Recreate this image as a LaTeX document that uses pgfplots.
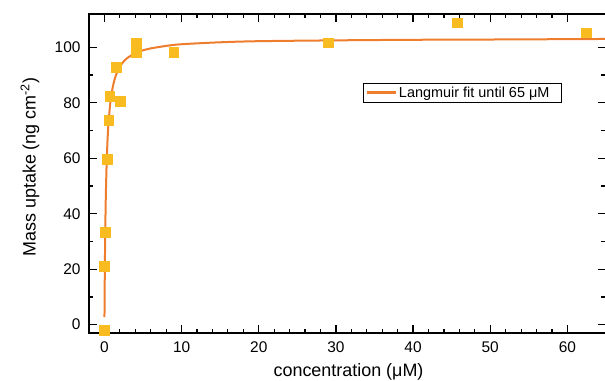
\documentclass[border=0pt]{standalone}
\usepackage{pgfplots}
\pgfplotsset{compat=1.18}
\usepackage{fontspec}
\setmainfont{Liberation Sans}
\definecolor{mk}{RGB}{248,187,32}
\definecolor{fitc}{RGB}{238,125,45}
\begin{document}
\begin{tikzpicture}
\useasboundingbox (-89bp,-48bp) rectangle (516bp,333bp);
\begin{axis}[
  scale only axis, width=517bp, height=319bp,
  xmin=-2, xmax=65, ymin=-3, ymax=112,
  xtick={0,10,...,60}, ytick={0,20,...,100},
  minor x tick num=4, minor y tick num=1,
  xtick pos=both, ytick pos=both,
  tick align=inside, major tick length=8bp, minor tick length=4.5bp,
  every tick/.style={black, line width=1.2bp},
  axis line style={line width=1.5bp},
  /pgf/number format/assume math mode=true,
  tick label style={font=\fontsize{15.5}{18}\selectfont},
  xticklabel style={yshift=-5bp},
  yticklabel style={xshift=-5bp},
  label style={font=\fontsize{18}{21}\selectfont},
  xlabel={concentration (μM)},
  ylabel={Mass uptake (ng cm\textsuperscript{-2})},
  x label style={at={(axis description cs:0.502,-0.122)}, anchor=center},
  y label style={at={(axis description cs:-0.114,0.52)}, anchor=center},
  legend style={at={(0.530,0.784)}, anchor=north west,
    font=\fontsize{14.5}{16}\selectfont, draw=black, line width=1bp,
    inner xsep=1.5bp, inner ysep=1.5bp, row sep=0pt},
  legend image code/.code={\draw[#1,line width=3bp] (0bp,0bp) -- (29bp,0bp);},
]
\addplot[only marks, mark=square*, mark size=4.8bp, color=mk, forget plot] coordinates {
(0.00,-2.0) (0.00,21.0) (0.13,33.3) (0.35,59.7) (0.56,73.7) (0.69,82.3)
(1.55,92.8) (2.07,80.5) (4.10,101.6) (4.10,98.2) (8.97,98.2)
(29.0,101.7) (45.7,108.9) (62.4,105.3)
};
\addplot[color=fitc, line width=2bp, smooth] coordinates {
(0.006,2.7) (0.02,8.5) (0.05,19.0) (0.1,32.1) (0.15,41.6) (0.2,48.9)
(0.3,59.3) (0.4,66.4) (0.5,71.5) (0.75,79.7) (1,84.5) (1.25,87.7)
(1.5,90.0) (2,93.0) (2.5,94.9) (3,96.2) (4,97.9) (5,98.9) (6,99.6)
(8,100.5) (10,101.1) (15,101.8) (20,102.2) (30,102.5) (40,102.7)
(50,102.8) (65,103.0)
};
\addlegendentry{Langmuir fit until 65 μM\hspace*{9bp}}
\end{axis}
\end{tikzpicture}
\end{document}
